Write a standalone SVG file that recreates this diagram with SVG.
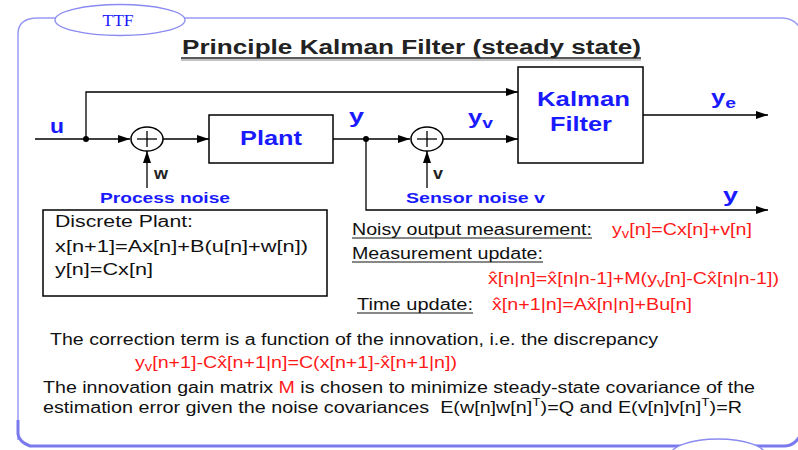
<svg xmlns="http://www.w3.org/2000/svg" width="798" height="450" viewBox="0 0 798 450">
<defs>
<marker id="arr" viewBox="0 0 12 8" refX="12" refY="4" markerWidth="12" markerHeight="8" markerUnits="userSpaceOnUse" orient="auto">
<path d="M0,0 L12,4 L0,8 Z" fill="#000"/>
</marker>
<style>
.ln{stroke:#000;stroke-width:1.3;fill:none}
.box{stroke:#000;stroke-width:1.5;fill:#fff}
.bl{font-family:"Liberation Sans",Arial,sans-serif;font-weight:bold;fill:#1a1aff}
.tx{font-family:"Liberation Sans",Arial,sans-serif;fill:#111;font-size:16px}
.rd{font-family:"Liberation Sans",Arial,sans-serif;fill:#ff1a1a;font-size:16px}
.ul{stroke:#111;stroke-width:1}
.sm{font-family:"Liberation Sans",Arial,sans-serif;font-weight:bold;font-size:16px;fill:#222}
</style>
</defs>
<rect width="798" height="450" fill="#fff"/>
<g id="frame">
<path d="M18 440 V34 Q18 18 38 18 H782 Q794 18 800 28" fill="none" stroke="#9a9af5" stroke-width="1.5"/>
<path d="M18 420 V434 Q19 442 30 446 H785 Q794 446 800 436" fill="none" stroke="#7a7aee" stroke-width="3"/>
<ellipse cx="120" cy="20" rx="65" ry="15.5" fill="#fff" stroke="#8a8af0" stroke-width="1.3"/>
<text x="118" y="26" text-anchor="middle" font-family="Liberation Serif,serif" font-size="17.5" fill="#1a1aff">TTF</text>
<ellipse cx="718" cy="456" rx="48" ry="17" fill="#fff" stroke="#8a8af0" stroke-width="1.3"/>
</g>
<g id="title">
<text x="182" y="54" textLength="459" lengthAdjust="spacingAndGlyphs" font-family="Liberation Sans,Arial,sans-serif" font-weight="bold" font-size="19.5" fill="#222">Principle Kalman Filter (steady state)</text>
<line x1="181" y1="58" x2="641" y2="58" stroke="#222" stroke-width="1.5"/>
<line x1="181" y1="60" x2="641" y2="60" stroke="#888" stroke-width="1"/>
</g>
<g id="connectors">
<line class="ln" x1="35" y1="139" x2="130" y2="139" marker-end="url(#arr)"/>
<polyline class="ln" points="86,139 86,92 518,92" marker-end="url(#arr)"/>
<line class="ln" x1="147" y1="188" x2="147" y2="151" marker-end="url(#arr)"/>
<line class="ln" x1="163" y1="139" x2="209" y2="139" marker-end="url(#arr)"/>
<line class="ln" x1="333" y1="139" x2="410" y2="139" marker-end="url(#arr)"/>
<polyline class="ln" points="366,139 366,210 768,210" marker-end="url(#arr)"/>
<line class="ln" x1="427" y1="188" x2="427" y2="151" marker-end="url(#arr)"/>
<line class="ln" x1="443" y1="139" x2="518" y2="139" marker-end="url(#arr)"/>
<line class="ln" x1="643" y1="115" x2="768" y2="115" marker-end="url(#arr)"/>
<circle cx="86" cy="139" r="3" fill="#000"/>
<circle cx="366" cy="139" r="3" fill="#000"/>
</g>
<g id="sum1">
<ellipse cx="147" cy="139" rx="16" ry="12" fill="#fff" stroke="#000" stroke-width="1.5"/>
<line class="ln" x1="137" y1="139" x2="157" y2="139"/>
<line class="ln" x1="147" y1="131" x2="147" y2="147"/>
</g>
<g id="sum2">
<ellipse cx="427" cy="139" rx="16" ry="12" fill="#fff" stroke="#000" stroke-width="1.5"/>
<line class="ln" x1="417" y1="139" x2="437" y2="139"/>
<line class="ln" x1="427" y1="131" x2="427" y2="147"/>
</g>
<g id="plant">
<rect class="box" x="209" y="115" width="124" height="48"/>
<text class="bl" x="240" y="145" textLength="62" lengthAdjust="spacingAndGlyphs" font-size="19.5">Plant</text>
</g>
<g id="kalman">
<rect class="box" x="518" y="67" width="125" height="96"/>
<text class="bl" x="537" y="106" textLength="93" lengthAdjust="spacingAndGlyphs" font-size="19.5">Kalman</text>
<text class="bl" x="550" y="131" textLength="62" lengthAdjust="spacingAndGlyphs" font-size="19.5">Filter</text>
</g>
<g id="labels">
<text class="bl" x="50" y="133" font-size="20" textLength="14" lengthAdjust="spacingAndGlyphs">u</text>
<text class="bl" x="349" y="123" font-size="20" textLength="15" lengthAdjust="spacingAndGlyphs">y</text>
<text class="bl" x="468" y="124" font-size="20" textLength="25" lengthAdjust="spacingAndGlyphs">y<tspan font-size="15" dy="4">v</tspan></text>
<text class="bl" x="711" y="104" font-size="20" textLength="25" lengthAdjust="spacingAndGlyphs">y<tspan font-size="15" dy="4">e</tspan></text>
<text class="bl" x="723" y="202" font-size="20" textLength="15" lengthAdjust="spacingAndGlyphs">y</text>
<text class="sm" x="154" y="179" textLength="14" lengthAdjust="spacingAndGlyphs">w</text>
<text class="sm" x="433" y="179" textLength="10" lengthAdjust="spacingAndGlyphs">v</text>
<text class="bl" x="100" y="203" font-size="15" textLength="130" lengthAdjust="spacingAndGlyphs">Process noise</text>
<text class="bl" x="406" y="203" font-size="15" textLength="139" lengthAdjust="spacingAndGlyphs">Sensor noise v</text>
</g>
<g id="discrete">
<rect class="box" x="43" y="210" width="284" height="86" stroke-width="1.2"/>
<text class="tx" x="55" y="227" textLength="138" lengthAdjust="spacingAndGlyphs">Discrete Plant:</text>
<text class="tx" x="55" y="252" textLength="253" lengthAdjust="spacingAndGlyphs">x[n+1]=Ax[n]+B(u[n]+w[n])</text>
<text class="tx" x="55" y="275" textLength="98" lengthAdjust="spacingAndGlyphs">y[n]=Cx[n]</text>
</g>
<g id="equations">
<text class="tx" x="352" y="235" textLength="240" lengthAdjust="spacingAndGlyphs">Noisy output measurement:</text>
<line class="ul" x1="352" y1="238" x2="592" y2="238"/>
<text class="rd" x="612" y="235" textLength="140" lengthAdjust="spacingAndGlyphs">y<tspan font-size="12" dy="3">v</tspan><tspan dy="-3">[n]=Cx[n]+v[n]</tspan></text>
<text class="tx" x="352" y="259" textLength="191" lengthAdjust="spacingAndGlyphs">Measurement update:</text>
<line class="ul" x1="352" y1="262" x2="543" y2="262"/>
<text class="rd" x="488" y="284" textLength="291" lengthAdjust="spacingAndGlyphs">x̂[n|n]=x̂[n|n-1]+M(y<tspan font-size="12" dy="3">v</tspan><tspan dy="-3">[n]-Cx̂[n|n-1])</tspan></text>
<text class="tx" x="357" y="310" textLength="116" lengthAdjust="spacingAndGlyphs">Time update:</text>
<line class="ul" x1="357" y1="313" x2="473" y2="313"/>
<text class="rd" x="492" y="310" textLength="200" lengthAdjust="spacingAndGlyphs">x̂[n+1|n]=Ax̂[n|n]+Bu[n]</text>
</g>
<g id="notes">
<text class="tx" x="50" y="345" textLength="608" lengthAdjust="spacingAndGlyphs">The correction term is a function of the innovation, i.e. the discrepancy</text>
<text class="rd" x="135" y="368" textLength="322" lengthAdjust="spacingAndGlyphs">y<tspan font-size="12" dy="3">v</tspan><tspan dy="-3">[n+1]-Cx̂[n+1|n]=C(x[n+1]-x̂[n+1|n])</tspan></text>
<text class="tx" x="43" y="393" textLength="712" lengthAdjust="spacingAndGlyphs">The innovation gain matrix <tspan fill="#ff1a1a">M</tspan> is chosen to minimize steady-state covariance of the</text>
<text class="tx" x="43" y="413" textLength="699" lengthAdjust="spacingAndGlyphs" xml:space="preserve">estimation error given the noise covariances  E(w[n]w[n]<tspan font-size="11" dy="-7">T</tspan><tspan dy="7">)=Q and E(v[n]v[n]</tspan><tspan font-size="11" dy="-7">T</tspan><tspan dy="7">)=R</tspan></text>
</g>
</svg>
